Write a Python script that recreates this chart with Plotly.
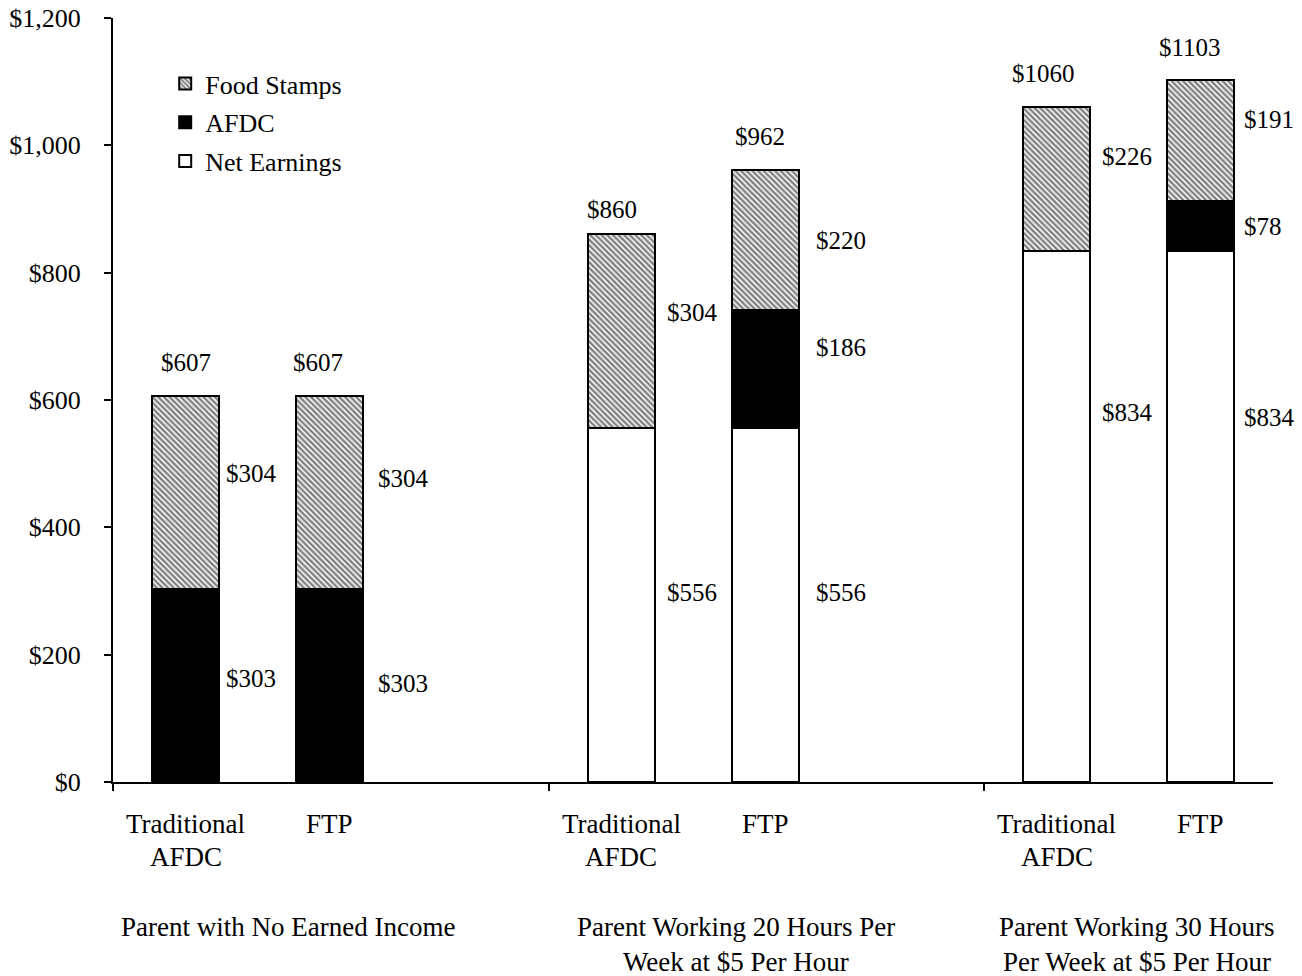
import plotly.graph_objects as go

# ---------------- data ----------------
groups = ["Parent with No Earned Income",
          "Parent Working 20 Hours Per<br>Week at $5 Per Hour",
          "Parent Working 30 Hours<br>Per Week at $5 Per Hour"]
programs = ["Traditional<br>AFDC", "FTP"]

net_earnings = [0, 0, 556, 556, 834, 834]
afdc = [303, 303, 0, 186, 0, 78]
food_stamps = [304, 304, 304, 220, 226, 191]
totals = [607, 607, 860, 962, 1060, 1103]

y_tick_vals = [0, 200, 400, 600, 800, 1000, 1200]
y_tick_text = ["$0", "$200", "$400", "$600", "$800", "$1,000", "$1,200"]

# ---------------- layout helpers (positions, not data) ----------------
GROUP_STEP = 435.5
SLOTS = [72.5, 216.5]
BAR_W = 67
x_pos = [g * GROUP_STEP + s for g in range(len(groups)) for s in SLOTS]
group_label_x = [175, 623, 1024]

# label anchor heights (in axis units) for the segment value labels
fs_label_y = [484, 476, 738, 851, 982, 1040]
afdc_label_y = [163, 155, None, 682, None, 872]
net_label_y = [None, None, 298, 298, 580, 572]
label_xshift = [5, 13, 10, 15, 10, 8]
total_xshift = [0, -12, -9, -5, -13, -11]
total_yshift = [33, 33, 25, 33, 34, 32]

FONT = "Liberation Serif"
FS = 25
FS_CAT = 27

fig = go.Figure()
line = dict(color="black", width=2)
fig.add_trace(go.Bar(x=x_pos, y=net_earnings, width=BAR_W, name="Net Earnings",
                     marker=dict(color="white", line=line), legendgroup="c", legendrank=3))
fig.add_trace(go.Bar(x=x_pos, y=afdc, width=BAR_W, name="AFDC",
                     marker=dict(color="black", line=line), legendgroup="b", legendrank=2))
fig.add_trace(go.Bar(x=x_pos, y=food_stamps, width=BAR_W, name="Food Stamps",
                     marker=dict(color="white", line=line,
                                 pattern=dict(shape="\\", fgcolor="black", bgcolor="white",
                                              size=4, solidity=0.62)),
                     legendgroup="a", legendrank=1))

ann = []
tfont = dict(family=FONT, size=FS, color="black")
cfont = dict(family=FONT, size=FS_CAT, color="black")
for i, xc in enumerate(x_pos):
    ann.append(dict(x=xc, y=totals[i], xref="x", yref="y", text=f"${totals[i]}",
                    showarrow=False, yanchor="middle", yshift=total_yshift[i],
                    xshift=total_xshift[i], font=tfont))
    for vals, ly in ((food_stamps, fs_label_y), (afdc, afdc_label_y), (net_earnings, net_label_y)):
        if ly[i] is not None and vals[i] > 0:
            ann.append(dict(x=xc + BAR_W / 2, y=ly[i], xref="x", yref="y",
                            text=f"${vals[i]}", showarrow=False, xanchor="left",
                            yanchor="middle", xshift=label_xshift[i], font=tfont))
    # category labels
    lines = programs[i % 2].split("<br>")
    for k, t in enumerate(lines):
        ann.append(dict(x=xc, y=0, xref="x", yref="paper", text=t, showarrow=False,
                        yanchor="middle", yshift=-42 - 33 * k, font=cfont))

for g, name in enumerate(groups):
    for k, t in enumerate(name.split("<br>")):
        ann.append(dict(x=group_label_x[g], y=0, xref="x", yref="paper", text=t,
                        showarrow=False, yanchor="middle", yshift=-145 - 35 * k, font=cfont))

x_ticks = [g * GROUP_STEP for g in range(len(groups))]

fig.update_layout(
    barmode="stack",
    width=1302, height=976,
    margin=dict(l=113, r=29, t=18, b=194, autoexpand=False),
    paper_bgcolor="white", plot_bgcolor="white",
    font=dict(family=FONT, size=FS, color="black"),
    showlegend=True,
    legend=dict(x=0.045, y=0.945, xanchor="left", yanchor="top",
                traceorder="grouped", tracegroupgap=2,
                font=dict(family=FONT, size=26, color="black"),
                bgcolor="rgba(0,0,0,0)"),
    xaxis=dict(range=[0, 1160], showgrid=False, zeroline=False, automargin=False,
               showline=True, linecolor="black", linewidth=2,
               tickvals=x_ticks, ticktext=["" for _ in x_ticks],
               ticks="outside", ticklen=7, tickwidth=2, tickcolor="black"),
    xaxis2=dict(range=[0, 1160], overlaying="x", anchor="y", showgrid=False,
                zeroline=False, showline=False, tickvals=x_ticks, automargin=False,
                showticklabels=False, ticks="inside", ticklen=7, tickwidth=2,
                tickcolor="black", side="bottom"),
    yaxis=dict(range=[0, 1200], showgrid=False, zeroline=False, automargin=False,
               showline=True, linecolor="black", linewidth=2,
               tickvals=y_tick_vals, ticktext=y_tick_text,
               ticks="outside", ticklen=7, tickwidth=2, tickcolor="black",
               ticklabelstandoff=18,
               tickfont=dict(family=FONT, size=26, color="black")),
    yaxis2=dict(range=[0, 1200], overlaying="y", anchor="x", showgrid=False,
                zeroline=False, showline=False, tickvals=y_tick_vals, automargin=False,
                showticklabels=False, ticks="inside", ticklen=7, tickwidth=2,
                tickcolor="black", side="left"),
    annotations=ann,
)

fig.write_html("out.html")
